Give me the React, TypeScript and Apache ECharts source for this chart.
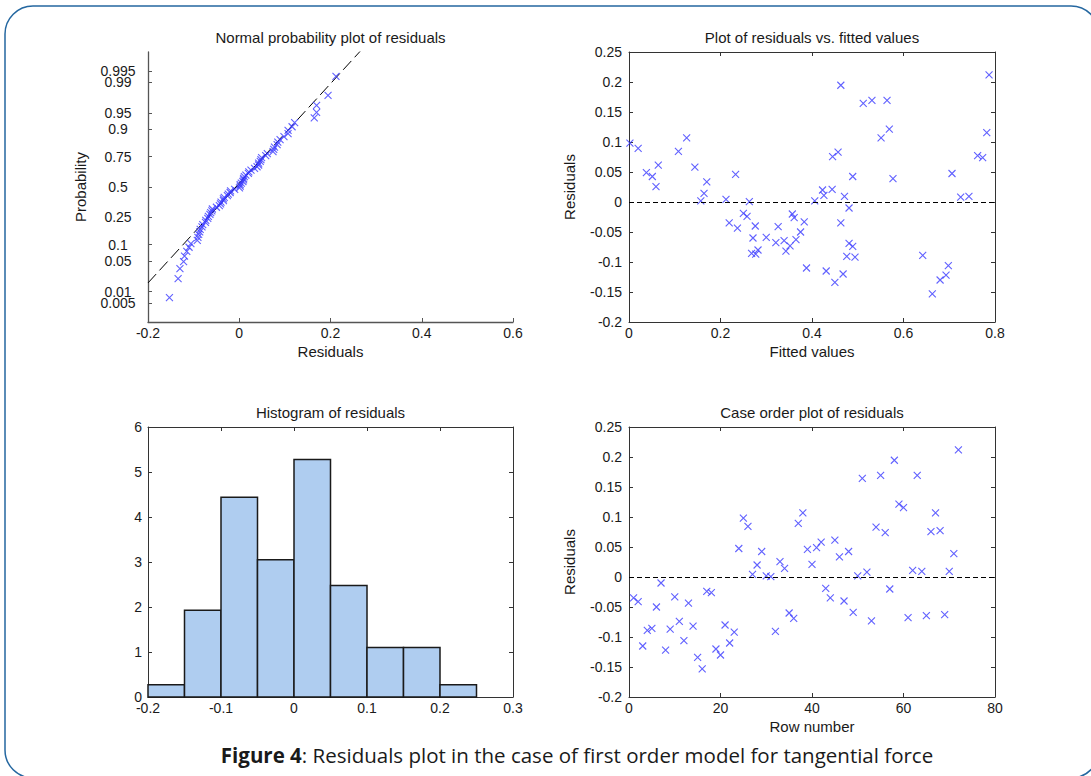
import React, { useEffect, useRef } from "react";
import * as echarts from "echarts";

// Residuals in row (case) order, rows 1..72
const residuals = [
  -0.0347, -0.041, -0.115, -0.089, -0.0856, -0.05, -0.01, -0.122, -0.0867, -0.033,
  -0.074, -0.106, -0.0436, -0.0817, -0.134, -0.153, -0.024, -0.026, -0.12, -0.13,
  -0.08, -0.11, -0.092, 0.0475, 0.098, 0.0845, 0.0045, 0.02, 0.0425, 0.002,
  0.0005, -0.0906, 0.0257, 0.0145, -0.06, -0.069, 0.0895, 0.107, 0.046, 0.021,
  0.049, 0.058, -0.019, -0.0347, 0.0615, 0.0336, -0.04, 0.0425, -0.059, 0.002,
  0.1644, 0.008, -0.0733, 0.083, 0.1695, 0.074, -0.02, 0.1946, 0.1214, 0.1158,
  -0.0677, 0.0112, 0.1695, 0.0095, -0.0643, 0.0755, 0.107, 0.0772, -0.0626, 0.0095,
  0.039, 0.212,
];

// Fitted values in the same row order
const fittedValues = [
  0.219, 0.326, 0.431, 0.642, 0.268, 0.375, 0.481, 0.693, 0.277, 0.383,
  0.489, 0.698, 0.237, 0.343, 0.45, 0.663, 0.258, 0.361, 0.468, 0.68,
  0.282, 0.388, 0.494, 0.706, 0.002, 0.108, 0.212, 0.423, 0.051, 0.157,
  0.263, 0.476, 0.059, 0.164, 0.271, 0.481, 0.02, 0.126, 0.233, 0.444,
  0.038, 0.144, 0.25, 0.463, 0.064, 0.17, 0.276, 0.489, 0.3, 0.406,
  0.512, 0.725, 0.352, 0.457, 0.564, 0.773, 0.357, 0.463, 0.569, 0.782,
  0.321, 0.426, 0.531, 0.743, 0.339, 0.445, 0.551, 0.762, 0.365, 0.471,
  0.577, 0.787,
];

// Histogram (density) of residuals
const histEdges = [-0.2, -0.15, -0.1, -0.05, 0, 0.05, 0.1, 0.15, 0.2, 0.25];
const histDensity = [0.27, 1.93, 4.44, 3.05, 5.28, 2.48, 1.1, 1.1, 0.27];

// Normal probability axis ticks (split into two label sets so close labels both show)
const probTicksMain = [0.005, 0.05, 0.1, 0.25, 0.5, 0.75, 0.9, 0.95, 0.995];
const probTicksMainLabels = ["0.005", "0.05", "0.1", "0.25", "0.5", "0.75", "0.9", "0.95", "0.995"];
const probTicksExtra = [0.01, 0.99];
const probTicksExtraLabels = ["0.01", "0.99"];

const titles = [
  "Normal probability plot of residuals",
  "Plot of residuals vs. fitted values",
  "Histogram of residuals",
  "Case order plot of residuals",
];

const FONT = "'Liberation Sans', Arial, sans-serif";
const TXT = "#1a1a1a";
const BOX = "#333333";
const MARK = "#3a3aff";

// inverse standard normal CDF (Acklam)
function probit(p: number): number {
  const a = [-3.969683028665376e1, 2.209460984245205e2, -2.759285104469687e2, 1.38357751867269e2, -3.066479806614716e1, 2.506628277459239];
  const b = [-5.447609879822406e1, 1.615858368580409e2, -1.556989798598866e2, 6.680131188771972e1, -1.328068155288572e1];
  const c = [-7.784894002430293e-3, -3.223964580411365e-1, -2.400758277161838, -2.549732539343734, 4.374664141464968, 2.938163982698783];
  const d = [7.784695709041462e-3, 3.224671290700398e-1, 2.445134137142996, 3.754408661907416];
  const pl = 0.02425;
  if (p < pl) {
    const q = Math.sqrt(-2 * Math.log(p));
    return (((((c[0] * q + c[1]) * q + c[2]) * q + c[3]) * q + c[4]) * q + c[5]) / ((((d[0] * q + d[1]) * q + d[2]) * q + d[3]) * q + 1);
  }
  if (p <= 1 - pl) {
    const q = p - 0.5;
    const r = q * q;
    return ((((((a[0] * r + a[1]) * r + a[2]) * r + a[3]) * r + a[4]) * r + a[5]) * q) / (((((b[0] * r + b[1]) * r + b[2]) * r + b[3]) * r + b[4]) * r + 1);
  }
  const q = Math.sqrt(-2 * Math.log(1 - p));
  return -(((((c[0] * q + c[1]) * q + c[2]) * q + c[3]) * q + c[4]) * q + c[5]) / ((((d[0] * q + d[1]) * q + d[2]) * q + d[3]) * q + 1);
}

function prctile(sorted: number[], pct: number): number {
  const n = sorted.length;
  const pos = (n * pct) / 100 + 0.5; // 1-based
  const lo = Math.floor(pos);
  const frac = pos - lo;
  return sorted[lo - 1] + frac * (sorted[lo] - sorted[lo - 1]);
}

const markerSymbol = "path://M0,0L10,10M10,0L0,10";

function scatterStyle() {
  return {
    symbol: markerSymbol,
    symbolSize: 7,
    itemStyle: { color: "rgba(0,0,0,0)", borderColor: MARK, borderWidth: 1.1 },
  };
}

function lbl(margin: number, extra: any = {}) {
  return { show: true, margin, fontSize: 14, color: TXT, fontFamily: FONT, hideOverlap: false, showMinLabel: true, showMaxLabel: true, ...extra };
}

function baseAxis(extra: any) {
  return {
    type: "value",
    splitLine: { show: false },
    axisLine: { show: true, onZero: false, lineStyle: { color: BOX, width: 1 } },
    axisTick: { show: true, inside: true, length: 4, lineStyle: { color: BOX, width: 1 } },
    axisLabel: lbl(8),
    nameTextStyle: { fontSize: 15, color: TXT, fontFamily: FONT },
    ...extra,
  };
}

function mirror(extra: any) {
  return baseAxis({ axisLabel: { show: false }, ...extra });
}

function labelFormatter(zs: number[], labels: string[]) {
  return (v: number) => {
    let best = 0;
    zs.forEach((z, i) => {
      if (Math.abs(z - v) < Math.abs(zs[best] - v)) best = i;
    });
    return labels[best];
  };
}

export default function App() {
  const ref = useRef<HTMLDivElement>(null);

  useEffect(() => {
    if (!ref.current) return;
    const chart = echarts.init(ref.current, undefined, { renderer: "svg" });

    const n = residuals.length;
    const sorted = [...residuals].sort((x, y) => x - y);
    const normalData = sorted.map((r, i) => [r, probit((i + 0.5) / n)]);
    const q1 = prctile(sorted, 25);
    const q3 = prctile(sorted, 75);
    const zq = probit(0.75);
    const slope = (2 * zq) / (q3 - q1);
    const mid = (q1 + q3) / 2;
    const zAt = (x: number) => (x - mid) * slope;
    const zMain = probTicksMain.map((p) => probit(p));
    const zExtra = probTicksExtra.map((p) => probit(p));
    const zAll = [...zMain, ...zExtra];

    const grids = [
      { left: 148, top: 52, width: 365, height: 270 },
      { left: 629, top: 52, width: 366, height: 270 },
      { left: 148, top: 427, width: 365, height: 270 },
      { left: 629, top: 427, width: 366, height: 270 },
    ];

    const xAxis = [
      baseAxis({
        gridIndex: 0, position: "bottom", min: -0.2, max: 0.6, interval: 0.2,
        axisLine: { show: true, onZero: false, lineStyle: { color: "#555", width: 1.3 } },
        axisTick: { show: true, inside: true, length: 4, lineStyle: { color: "#555" } },
        axisLabel: lbl(4),
        name: "Residuals", nameLocation: "middle", nameGap: 22,
      }),
      baseAxis({
        gridIndex: 1, position: "bottom", min: 0, max: 0.8, interval: 0.2,
        axisLabel: lbl(4),
        name: "Fitted values", nameLocation: "middle", nameGap: 22,
      }),
      mirror({ gridIndex: 1, position: "top", min: 0, max: 0.8, interval: 0.2 }),
      baseAxis({
        gridIndex: 2, position: "bottom", min: -0.2, max: 0.3, interval: 0.1,
        axisLabel: lbl(4),
      }),
      mirror({ gridIndex: 2, position: "top", min: -0.2, max: 0.3, interval: 0.1 }),
      baseAxis({
        gridIndex: 3, position: "bottom", min: 0, max: 80, interval: 20,
        axisLabel: lbl(4),
        name: "Row number", nameLocation: "middle", nameGap: 22,
      }),
      mirror({ gridIndex: 3, position: "top", min: 0, max: 80, interval: 20 }),
    ];

    const yAxis = [
      baseAxis({
        gridIndex: 0, position: "left", min: -3, max: 3,
        axisLine: { show: true, onZero: false, lineStyle: { color: "#555", width: 1.3 } },
        axisTick: { show: true, inside: true, length: 4, lineStyle: { color: "#555" }, customValues: zAll },
        axisLabel: lbl(30, {
          align: "center",
          customValues: zMain,
          formatter: labelFormatter(zMain, probTicksMainLabels),
        }),
        name: "Probability", nameLocation: "middle", nameGap: 60,
      }),
      baseAxis({
        gridIndex: 1, position: "left", min: -0.2, max: 0.25, interval: 0.05,
        axisLabel: lbl(7),
        name: "Residuals", nameLocation: "middle", nameGap: 52,
      }),
      mirror({ gridIndex: 1, position: "right", min: -0.2, max: 0.25, interval: 0.05 }),
      baseAxis({
        gridIndex: 2, position: "left", min: 0, max: 6, interval: 1,
        axisLabel: lbl(6),
      }),
      mirror({ gridIndex: 2, position: "right", min: 0, max: 6, interval: 1 }),
      baseAxis({
        gridIndex: 3, position: "left", min: -0.2, max: 0.25, interval: 0.05,
        axisLabel: lbl(7),
        name: "Residuals", nameLocation: "middle", nameGap: 52,
      }),
      mirror({ gridIndex: 3, position: "right", min: -0.2, max: 0.25, interval: 0.05 }),
      baseAxis({
        gridIndex: 0, position: "left", min: -3, max: 3,
        axisLine: { show: false, onZero: false },
        axisTick: { show: false },
        axisLabel: lbl(30, {
          align: "center",
          customValues: zExtra,
          formatter: labelFormatter(zExtra, probTicksExtraLabels),
        }),
      }),
    ];

    const zeroLine = {
      silent: true,
      symbol: "none",
      label: { show: false },
      lineStyle: { color: "#000", type: [5, 3], width: 1 },
      data: [{ yAxis: 0 }],
    };

    const series: any[] = [
      {
        type: "line", xAxisIndex: 0, yAxisIndex: 0, clip: true, showSymbol: false, symbol: "none",
        data: [[-0.2, zAt(-0.2)], [0.6, zAt(0.6)]],
        lineStyle: { color: "#000", width: 1, type: [12, 5] }, z: 1,
      },
      {
        type: "line", xAxisIndex: 0, yAxisIndex: 0, showSymbol: false, symbol: "none",
        data: [[q1, -zq], [q3, zq]],
        lineStyle: { color: "#000", width: 1 }, z: 1,
      },
      { type: "scatter", xAxisIndex: 0, yAxisIndex: 0, data: normalData, ...scatterStyle(), z: 2 },
      {
        type: "scatter", xAxisIndex: 1, yAxisIndex: 1,
        data: fittedValues.map((f, i) => [f, residuals[i]]),
        ...scatterStyle(), markLine: zeroLine,
      },
      {
        type: "custom", xAxisIndex: 3, yAxisIndex: 3,
        data: histDensity.map((h, i) => [histEdges[i], histEdges[i + 1], h]),
        encode: { x: [0, 1], y: 2 },
        renderItem: (params: any, api: any) => {
          const p0 = api.coord([api.value(0), api.value(2)]);
          const p1 = api.coord([api.value(1), 0]);
          return {
            type: "rect",
            shape: { x: p0[0], y: p0[1], width: p1[0] - p0[0], height: p1[1] - p0[1] },
            style: { fill: "#afcdf0", stroke: "#1a1a1a", lineWidth: 1.5 },
          };
        },
      },
      {
        type: "scatter", xAxisIndex: 5, yAxisIndex: 5,
        data: residuals.map((r, i) => [i + 1, r]),
        ...scatterStyle(), markLine: zeroLine,
      },
    ];

    const titleText = titles.map((t, i) => {
      const g = grids[i];
      return {
        type: "text",
        x: g.left + g.width / 2,
        y: g.top - 15,
        style: { text: t, align: "center", verticalAlign: "middle", fontSize: 15, fontFamily: FONT, fill: TXT },
      };
    });

    chart.setOption({
      animation: false,
      textStyle: { fontFamily: FONT },
      grid: grids,
      xAxis,
      yAxis,
      series,
      graphic: [
        {
          type: "rect", z: -10,
          shape: { x: 5, y: 6, width: 1094, height: 772, r: 28 },
          style: { fill: "none", stroke: "#2467a0", lineWidth: 1.5 },
        },
        ...titleText,
        {
          type: "text",
          x: 577,
          y: 755,
          style: {
            text: "{b|Figure 4}{n|: Residuals plot in the case of first order model for tangential force}",
            align: "center",
            verticalAlign: "middle",
            rich: {
              b: { fontFamily: "'Open Sans', sans-serif", fontSize: 20.5, fontWeight: "bold", fill: "#1a1a1a" },
              n: { fontFamily: "'Open Sans', sans-serif", fontSize: 20.5, fill: "#1a1a1a" },
            },
          },
        },
      ],
    });

    return () => chart.dispose();
  }, []);

  return (
    <div
      ref={ref}
      style={{ position: "absolute", left: 0, top: 0, width: 1091, height: 776, background: "#fff" }}
    />
  );
}
